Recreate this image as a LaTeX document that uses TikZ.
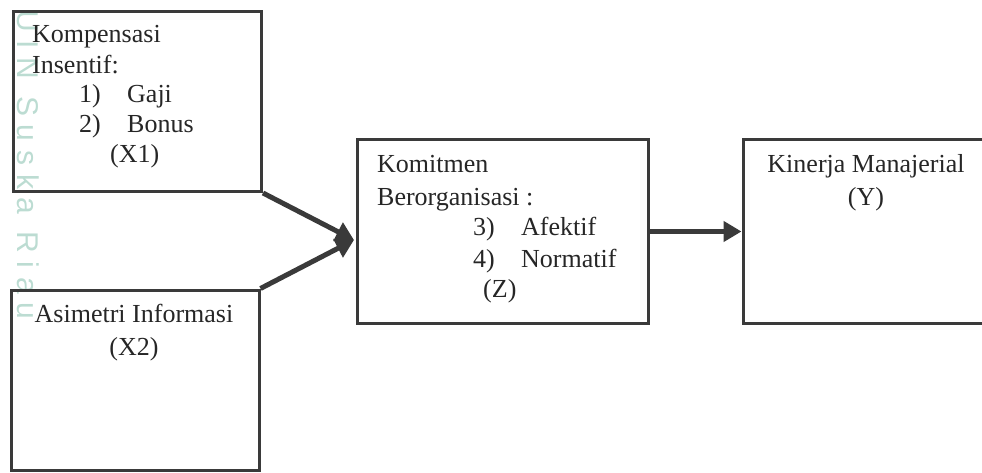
\documentclass[tikz,border=0pt]{standalone}
\usepackage{fontspec}
\setmainfont{Liberation Serif}
\newfontfamily\tandafont{Liberation Sans}
\usetikzlibrary{arrows.meta}

\definecolor{garis}{RGB}{58,58,58}
\definecolor{tanda}{RGB}{188,220,210}

\tikzset{
    kotak/.style={draw=garis, line width=3pt, inner sep=0pt, anchor=north west},
    teks/.style={inner sep=0pt, text=black!85, font=\fontsize{26}{31}\selectfont},
    panah/.style={draw=garis, line width=5pt, -{Triangle[length=18pt,width=20pt]}}
}

\begin{document}
\begin{tikzpicture}[x=1pt,y=-1pt]
    \useasboundingbox (0,0) rectangle (982,473);
    % watermark
    \node[rotate=-90, anchor=west, inner sep=0pt, text=tanda, font=\tandafont\fontsize{30}{30}\selectfont\addfontfeature{LetterSpace=29}] (tanda) at (28,10) {UIN Suska Riau};

    % boxes
    \node[kotak, minimum width=248.5pt, minimum height=180pt] (x1) at (11.5,10) {};
    \node[kotak, minimum width=248pt, minimum height=180.5pt] (x2) at (9.5,288.5) {};
    \node[kotak, minimum width=291pt, minimum height=183pt] (z) at (355.5,138.5) {};
    \node[kotak, minimum width=270pt, minimum height=183pt] (y) at (741.5,138.5) {};

    % texts
    \node[teks, anchor=base west] (x1a) at (32,43) {Kompensasi};
    \node[teks, anchor=base west] (x1b) at (32,74) {Insentif:};
    \node[teks, anchor=base west] (x1c) at (79,103) {1)};
    \node[teks, anchor=base west] (x1d) at (127,103) {Gaji};
    \node[teks, anchor=base west] (x1e) at (79,133) {2)};
    \node[teks, anchor=base west] (x1f) at (127,133) {Bonus};
    \node[teks, anchor=base west] (x1g) at (110,163) {(X1)};

    \node[teks, anchor=base] (x2a) at (134,322) {Asimetri Informasi};
    \node[teks, anchor=base] (x2b) at (134,355) {(X2)};

    \node[teks, anchor=base west] (za) at (377,173) {Komitmen};
    \node[teks, anchor=base west] (zb) at (377,205) {Berorganisasi :};
    \node[teks, anchor=base west] (zc) at (473,235) {3)};
    \node[teks, anchor=base west] (zd) at (521,235) {Afektif};
    \node[teks, anchor=base west] (ze) at (473,267) {4)};
    \node[teks, anchor=base west] (zf) at (521,267) {Normatif};
    \node[teks, anchor=base west] (zg) at (483,297) {(Z)};

    \node[teks, anchor=base] (ya) at (866,173) {Kinerja Manajerial};
    \node[teks, anchor=base] (yb) at (866,205) {(Y)};

    % arrows
    \coordinate (zin) at (354,240);
    \draw[panah] (x1.south east) -- (zin);
    \draw[panah] (x2.north east) -- (zin);
    \draw[panah] (z.east) -- (y.west);
\end{tikzpicture}
\end{document}
